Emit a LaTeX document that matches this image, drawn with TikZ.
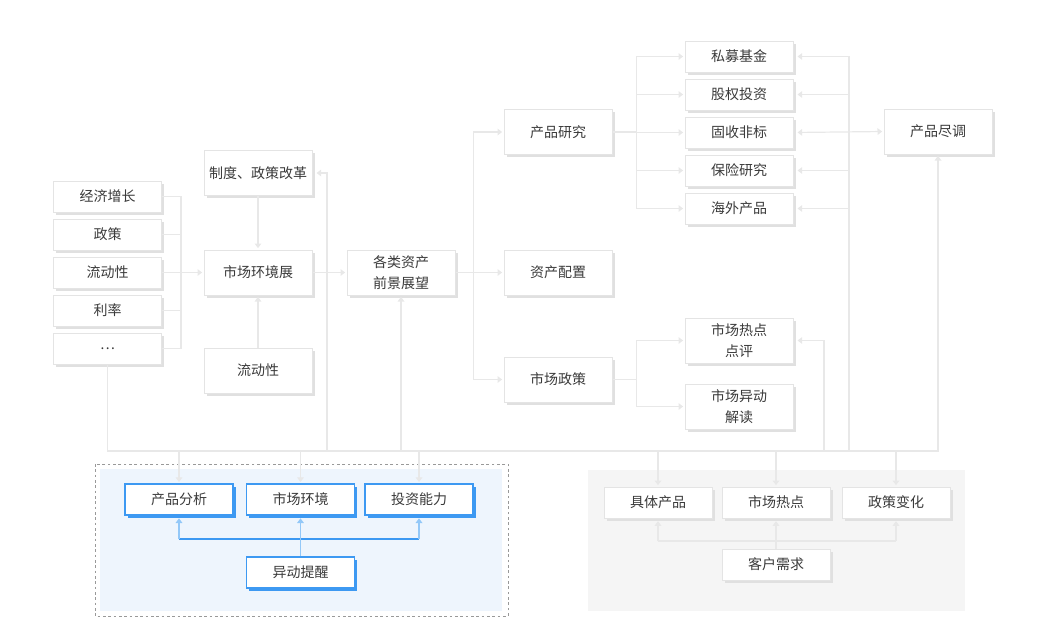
\documentclass[tikz,border=0pt]{standalone}
\usepackage{fontspec}
\setmainfont{Noto Sans CJK SC}
\usepackage{tikz}
\usetikzlibrary{arrows.meta,shadows}
\definecolor{txt}{HTML}{3A3A3A}
\definecolor{boxline}{HTML}{E4E4E4}
\definecolor{shade}{HTML}{E0E0E0}
\definecolor{conn}{HTML}{E8E8E8}
\definecolor{bluec}{HTML}{3D99F2}
\definecolor{bluelt}{HTML}{93C8F8}
\definecolor{bluebg}{HTML}{EEF5FD}
\definecolor{graybg}{HTML}{F5F5F5}

\begin{document}
\begin{tikzpicture}[x=0.75pt,y=-0.75pt,
  base/.style={fill=white,text=txt,font=\fontsize{10.5}{15.5}\selectfont,align=center,
    minimum width=81pt,minimum height=23.25pt,inner sep=0pt,line width=0.75pt},
  box/.style={base,draw=boxline,general shadow={fill=shade,shadow xshift=2pt,shadow yshift=-2pt}},
  tall/.style={box,minimum height=33.75pt},
  bbox/.style={base,draw=bluec,line width=1pt,general shadow={fill=bluec,shadow xshift=2pt,shadow yshift=-2pt}},
  line/.style={draw=conn,line width=0.9pt},
  arr/.style={line,-{Triangle[length=3.5pt,width=5pt]},shorten >=1pt},
  darr/.style={line,{Triangle[length=3.5pt,width=5pt]}-{Triangle[length=3.5pt,width=5pt]},shorten <=3pt,shorten >=1pt},
  bline/.style={draw=bluec,line width=0.9pt},
  barr/.style={draw=bluelt,line width=1.2pt,-{Triangle[length=3.5pt,width=5pt]},shorten >=2pt}]
  \useasboundingbox (0,0) rectangle (1050,640);

  % panels
  \draw[gray!80,dash pattern=on 2pt off 2pt,line width=0.6pt] (95,464) rectangle (508,616);
  \fill[bluebg] (100,469) rectangle (502,611);
  \fill[graybg] (588,470) rectangle (965,611);

  % factors
  \node[box] (growth) at (107.5,196.5) {经济增长};
  \node[box] (policy) at (107.5,234.5) {政策};
  \node[box] (liquid) at (107.5,272.5) {流动性};
  \node[box] (rate)   at (107.5,310.5) {利率};
  \node[box] (more)   at (107.5,348.5) {…};

  \node[tall] (reform)  at (258,173)   {制度、政策改革};
  \node[tall] (mktenv)  at (258,272.5) {市场环境展};
  \node[tall] (liquid2) at (258,370.5) {流动性};
  \node[tall] (outlook) at (401,272.5) {各类资产\\前景展望};

  \node[tall] (prodres) at (558,132)   {产品研究};
  \node[tall] (alloc)   at (558,272.5) {资产配置};
  \node[tall] (mktpol)  at (558,379.5) {市场政策};

  \node[box] (pe)       at (739,56.5)  {私募基金};
  \node[box] (equity)   at (739,94.5)  {股权投资};
  \node[box] (fixinc)   at (739,132.5) {固收非标};
  \node[box] (insur)    at (739,170.5) {保险研究};
  \node[box] (overseas) at (739,208.5) {海外产品};
  \node[tall] (hotcmt)  at (739,340.5) {市场热点\\点评};
  \node[tall] (anomaly) at (739,406.5) {市场异动\\解读};
  \node[tall] (duedil)  at (938,131.5) {产品尽调};

  % bottom panels
  \node[bbox] (prodana) at (179,499.5)   {产品分析};
  \node[bbox] (mktenv2) at (300.5,499.5) {市场环境};
  \node[bbox] (invcap)  at (419,499.5)   {投资能力};
  \node[bbox] (alert)   at (300.5,572.5) {异动提醒};

  \node[box] (product) at (658,502.5) {具体产品};
  \node[box] (hotspot) at (776,502.5) {市场热点};
  \node[box] (polchg)  at (896,502.5) {政策变化};
  \node[box] (client)  at (776,564.5) {客户需求};

  \coordinate (hub) at (181,272.5);
  \coordinate (bus) at (0,451);

  % left side
  \foreach \n in {growth,policy,rate,more}
    \draw[line] (\n.east) -| (hub);
  \draw[arr] (liquid.east) -- (mktenv.west);
  \draw[arr] (reform.south) -- (mktenv.north);
  \draw[arr] (liquid2.north) -- (mktenv.south);
  \draw[arr] (mktenv.east) -- (outlook.west);
  \foreach \n in {prodres,alloc,mktpol}
    \draw[arr] (outlook.east) -- ++(18,0) |- (\n.west);
  \foreach \n in {pe,equity,fixinc,insur,overseas}
    \draw[arr] (prodres.east) -- ++(24,0) |- (\n.west);
  \foreach \n in {hotcmt,anomaly}
    \draw[arr] (mktpol.east) -- ++(24,0) |- (\n.west);

  % feedback bus
  \draw[arr] (more.south) |- (bus -| duedil.south) -- (duedil.south);
  \draw[arr,shorten >=3pt] (bus -| 327,0) |- (reform.east);
  \draw[arr] (bus -| outlook.south) -- (outlook.south);
  \draw[arr,shorten >=3pt] (bus -| 824,0) |- (hotcmt.east);
  \foreach \n in {pe,equity,insur,overseas}
    \draw[arr,shorten >=3pt] (bus -| 849,0) |- (\n.east);
  \draw[darr] (fixinc.east) -- (duedil.west);
  \foreach \n in {prodana,mktenv2,invcap,product,hotspot,polchg}
    \draw[arr] (bus -| \n.north) -- (\n.north);

  % alerts
  \draw[bline] (prodana.south |- 0,539) -- (invcap.south |- 0,539);
  \draw[barr] (alert.north) -- (mktenv2.south);
  \foreach \n in {prodana,invcap}
    \draw[barr] (\n.south |- 0,539) -- (\n.south);

  % client needs
  \draw[line] (product.south |- 0,541) -- (polchg.south |- 0,541);
  \draw[arr,shorten >=2pt] (client.north) -- (hotspot.south);
  \foreach \n in {product,polchg}
    \draw[arr,shorten >=2pt] (\n.south |- 0,541) -- (\n.south);
\end{tikzpicture}
\end{document}
